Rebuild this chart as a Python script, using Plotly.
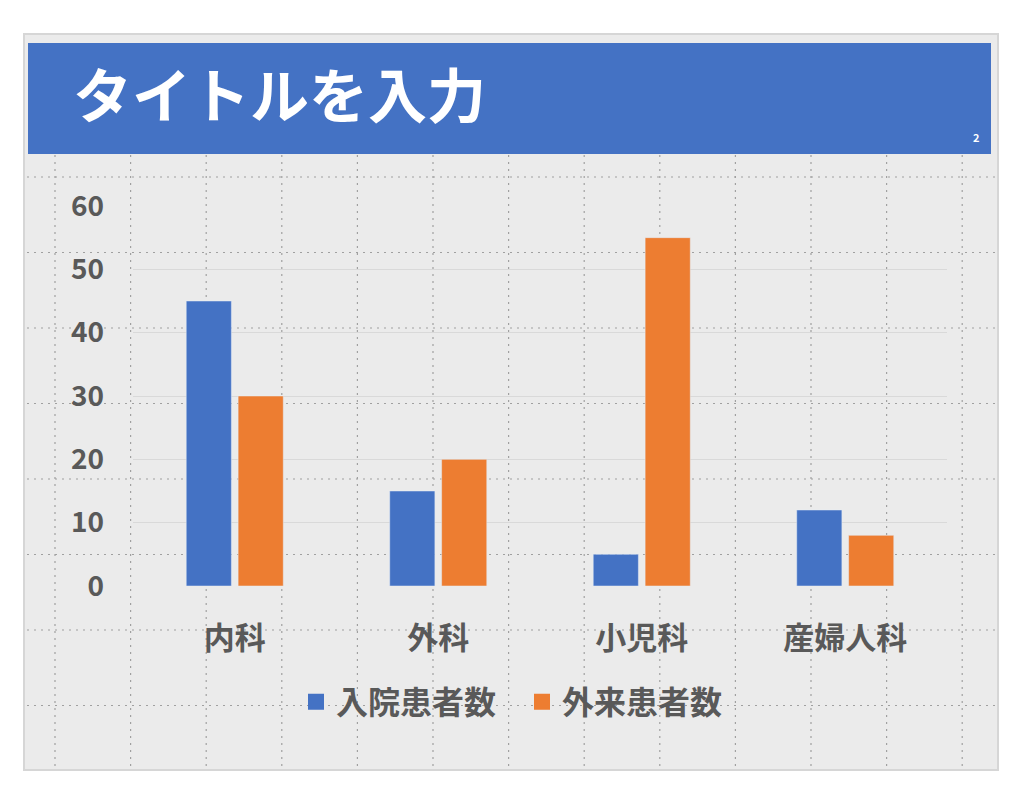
import plotly.graph_objects as go

# chart data
departments = ['内科', '外科', '小児科', '産婦人科']
inpatients = [45, 15, 5, 12]
outpatients = [30, 20, 55, 8]
series_names = ['入院患者数', '外来患者数']
series_colors = ['#4472C4', '#ED7D31']
y_ticks = [0, 10, 20, 30, 40, 50, 60]

W, H = 1024, 785
FONT = 'Noto Sans CJK JP'
GRAY = '#595959'
OFF = 8  # page body margin


def px_x(x):
    return (x - OFF) / W


def px_y(y):
    return 1 - (y - OFF) / H


fig = go.Figure()
fig.add_trace(go.Bar(x=departments, y=inpatients, name=series_names[0],
                     marker_color=series_colors[0], showlegend=False))
fig.add_trace(go.Bar(x=departments, y=outpatients, name=series_names[1],
                     marker_color=series_colors[1], showlegend=False))
# legend entries with larger square keys
for name, color in zip(series_names, series_colors):
    fig.add_trace(go.Scatter(x=[None], y=[None], mode='markers', name=name,
                             marker=dict(symbol='square', size=16, color=color)))

shapes = []
# slide background
shapes.append(dict(type='rect', xref='paper', yref='paper', layer='below',
                   x0=px_x(24), x1=px_x(998), y0=px_y(770), y1=px_y(34),
                   fillcolor='#ebebeb', line=dict(color='#d6d6d6', width=2)))
# dotted guide grid of the slide
for i in range(13):
    gx = 55 + i * 75.6
    shapes.append(dict(type='line', xref='paper', yref='paper', layer='below',
                       x0=px_x(gx), x1=px_x(gx), y0=px_y(766), y1=px_y(155),
                       line=dict(color='#a0a0a0', width=1.2, dash='2px,5px')))
for j in range(8):
    gy = 177 + j * 75.5
    shapes.append(dict(type='line', xref='paper', yref='paper', layer='below',
                       x0=px_x(27), x1=px_x(995), y0=px_y(gy), y1=px_y(gy),
                       line=dict(color='#a0a0a0', width=1.2, dash='2px,5px')))
# title banner
shapes.append(dict(type='rect', xref='paper', yref='paper', layer='below',
                   x0=px_x(28), x1=px_x(991), y0=px_y(154), y1=px_y(43),
                   fillcolor='#4472C4', line=dict(width=0)))

annotations = [
    dict(text='タイトルを入力', xref='paper', yref='paper', x=px_x(71), y=px_y(93),
         xanchor='left', yanchor='middle', showarrow=False,
         font=dict(family=FONT, size=59, color='white', weight='bold')),
    dict(text='2', xref='paper', yref='paper', x=px_x(976), y=px_y(137),
         xanchor='center', yanchor='middle', showarrow=False,
         font=dict(family=FONT, size=11, color='white', weight='bold')),
]

fig.update_layout(
    width=W, height=H,
    margin=dict(l=0, r=0, t=0, b=0, autoexpand=False),
    paper_bgcolor='white',
    plot_bgcolor='rgba(0,0,0,0)',
    barmode='group',
    bargap=0.49,
    bargroupgap=0.13,
    shapes=shapes,
    annotations=annotations,
    font=dict(family=FONT, color=GRAY),
    xaxis=dict(domain=[px_x(133), px_x(947)], showgrid=False, showline=False,
               zeroline=False, ticks='', ticklabelstandoff=31, automargin=False,
               tickfont=dict(family=FONT, size=31, color=GRAY, weight='bold')),
    yaxis=dict(domain=[px_y(586), px_y(206)], range=[0, 60], tickvals=y_ticks,
               showgrid=True, gridcolor='#d9d9d9', gridwidth=1, zeroline=False,
               showline=False, ticks='', ticklabelstandoff=28, automargin=False,
               tickfont=dict(family=FONT, size=28, color=GRAY, weight='bold')),
    legend=dict(orientation='h', x=px_x(522), xanchor='center', y=px_y(702),
                yanchor='middle', bgcolor='rgba(0,0,0,0)',
                font=dict(family=FONT, size=32, color=GRAY, weight='bold'),
                itemwidth=30, entrywidth=181, entrywidthmode='pixels'),
)

fig.write_html("out.html")
